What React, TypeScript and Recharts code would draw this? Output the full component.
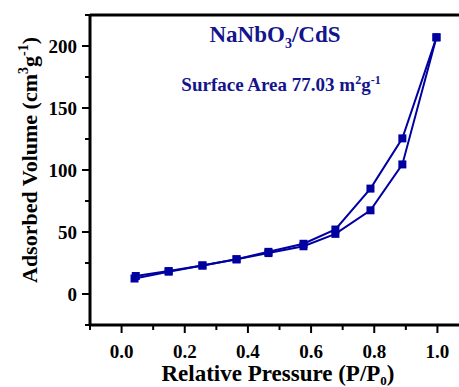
import React from 'react';
import { LineChart, Line, XAxis, YAxis, ReferenceLine, Label } from 'recharts';

// adsorption branch (lower curve)
const adsPressure = [0.041, 0.149, 0.256, 0.364, 0.465, 0.576, 0.677, 0.788, 0.889, 0.997];
const adsVolume = [12.5, 18, 23, 28, 33, 38.5, 48.5, 67.5, 104.5, 207];

// desorption branch (upper curve)
const desPressure = [0.997, 0.889, 0.788, 0.677, 0.576, 0.465, 0.364, 0.256, 0.149, 0.045];
const desVolume = [207, 125.5, 85, 52, 40.5, 34, 28, 23, 18.5, 14.5];

const xTicks = [-0.1, 0, 0.1, 0.2, 0.3, 0.4, 0.5, 0.6, 0.7, 0.8, 0.9, 1.0, 1.1];
const yTicks = [-25, 0, 25, 50, 75, 100, 125, 150, 175, 200, 225];

const adsData = adsPressure.map((x, i) => ({ x, y: adsVolume[i] }));
const desData = desPressure.map((x, i) => ({ x, y: desVolume[i] }));

const NAVY = '#0000a0';
const TEXT_NAVY = '#14148c';
const FONT = '"Liberation Serif", "Times New Roman", serif';

const SquareDot = (props: any) => {
  const { cx, cy } = props;
  if (cx == null || cy == null) return null;
  return <rect x={cx - 4} y={cy - 4} width={8} height={8} fill={NAVY} />;
};

const XTick = (props: any) => {
  const { x, y, payload } = props;
  const v = payload.value;
  const major = Math.round(v * 10) % 2 === 0;
  return (
    <g>
      <line x1={x} x2={x} y1={y} y2={y + (major ? 8 : 5)} stroke="#000" strokeWidth={2} />
      {major && (
        <text x={x} y={y + 33} textAnchor="middle" fontFamily={FONT} fontWeight="bold" fontSize={19} fill="#000">
          {v.toFixed(1)}
        </text>
      )}
    </g>
  );
};

const YTick = (props: any) => {
  const { x, y, payload } = props;
  const v = payload.value;
  const major = v % 50 === 0;
  return (
    <g>
      <line x1={x} x2={x - (major ? 8 : 5)} y1={y} y2={y} stroke="#000" strokeWidth={2} />
      {major && (
        <text x={x - 13} y={y + 7} textAnchor="end" fontFamily={FONT} fontWeight="bold" fontSize={19} fill="#000">
          {v}
        </text>
      )}
    </g>
  );
};

const YTitle = () => (
  <text
    transform="translate(37, 160) rotate(-90)"
    textAnchor="middle"
    fontFamily={FONT}
    fontWeight="bold"
    fontSize={22}
    fill="#000"
  >
    Adsorbed Volume (cm
    <tspan dy={-9} fontSize={14}>3</tspan>
    <tspan dy={9}>g</tspan>
    <tspan dy={-9} fontSize={14}>-1</tspan>
    <tspan dy={9}>)</tspan>
  </text>
);

const XTitle = () => (
  <text x={278} y={381} textAnchor="middle" fontFamily={FONT} fontWeight="bold" fontSize={23} fill="#000">
    Relative Pressure (P/P
    <tspan dy={4} fontSize={13}>0</tspan>
    <tspan dy={-4}>)</tspan>
  </text>
);

export default function App() {
  return (
    <div style={{ position: 'absolute', left: 0, top: 0, width: 459, height: 387, overflow: 'hidden', background: '#fff' }}>
      <LineChart width={500} height={387} margin={{ top: 15, right: 31, bottom: 0, left: 0 }}>
        <XAxis
          type="number"
          dataKey="x"
          domain={[-0.1, 1.1]}
          ticks={xTicks}
          interval={0}
          height={62}
          tickSize={0}
          tickMargin={0}
          tickLine={false}
          axisLine={{ stroke: '#000', strokeWidth: 3 }}
          tick={<XTick />}
          allowDataOverflow
        >
          <Label content={<XTitle />} />
        </XAxis>
        <YAxis
          type="number"
          dataKey="y"
          domain={[-25, 225]}
          ticks={yTicks}
          interval={0}
          width={90}
          tickSize={0}
          tickMargin={0}
          tickLine={false}
          axisLine={{ stroke: '#000', strokeWidth: 3 }}
          tick={<YTick />}
          allowDataOverflow
        >
          <Label content={<YTitle />} />
        </YAxis>
        <ReferenceLine y={225} stroke="#000" strokeWidth={3} ifOverflow="visible" />
        <Line
          data={adsData}
          dataKey="y"
          stroke={NAVY}
          strokeWidth={2}
          dot={<SquareDot />}
          activeDot={false}
          isAnimationActive={false}
        />
        <Line
          data={desData}
          dataKey="y"
          stroke={NAVY}
          strokeWidth={2}
          dot={<SquareDot />}
          activeDot={false}
          isAnimationActive={false}
        />
        <text x={275} y={42} textAnchor="middle" fontFamily={FONT} fontWeight="bold" fontSize={23} fill={TEXT_NAVY}>
          NaNbO
          <tspan dy={6} fontSize={14}>3</tspan>
          <tspan dy={-6}>/CdS</tspan>
        </text>
        <text x={281} y={91} textAnchor="middle" fontFamily={FONT} fontWeight="bold" fontSize={19} fill={TEXT_NAVY}>
          Surface Area 77.03 m
          <tspan dy={-7} fontSize={12}>2</tspan>
          <tspan dy={7}>g</tspan>
          <tspan dy={-7} fontSize={12}>-1</tspan>
        </text>
      </LineChart>
    </div>
  );
}
